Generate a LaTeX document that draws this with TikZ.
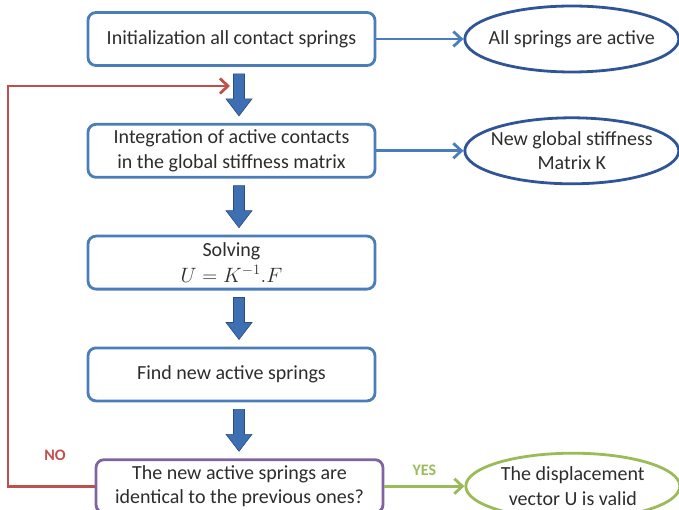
\documentclass[tikz,border=0pt]{standalone}
\usepackage{fontspec}
\setmainfont{Carlito}
\usepackage{amsmath}
\usepackage{tikz}
\usetikzlibrary{shapes.geometric, arrows.meta, positioning}
\usepackage{xcolor}

\definecolor{boxblue}{RGB}{74,126,187}
\definecolor{ovalblue}{RGB}{47,85,151}
\definecolor{blockblue}{RGB}{61,111,178}
\definecolor{loopred}{RGB}{192,80,77}
\definecolor{okgreen}{RGB}{155,187,89}
\definecolor{testpurple}{RGB}{128,100,162}
\definecolor{txtgray}{RGB}{45,45,45}

\begin{document}
\begin{tikzpicture}[
    x=1pt, y=-1pt,
    node distance=56pt,
    every node/.style={font=\fontsize{20}{24.5}\selectfont, text=txtgray},
    etapa/.style={
        rectangle,
        rounded corners=8pt,
        draw=boxblue,
        line width=2.8pt,
        align=center,
        minimum width=287pt,
        minimum height=53pt,
        inner sep=2pt,
        fill=white
    },
    resultado/.style={
        ellipse,
        draw=ovalblue,
        line width=2.8pt,
        align=center,
        minimum width=214pt,
        minimum height=66pt,
        inner xsep=-12pt,
        inner ysep=-3pt
    },
    flecha/.style={
        -{Straight Barb[length=8pt,width=15pt]},
        line width=2.8pt
    },
    bloque/.style={
        draw=blockblue!70!black,
        line width=0.6pt,
        fill=blockblue
    }
]
\useasboundingbox (0,0) rectangle (679,510);

\node[etapa] (inicio) at (231.5,39) {Initialization all contact springs};
\node[etapa, below=of inicio] (integracion) {Integration of active contacts\\in the global stiffness matrix};
\node[etapa, below=of integracion] (solucion) {Solving\\[1pt]$U = K^{-1}.F$};
\node[etapa, below=of solucion] (busqueda) {Find new active springs};
\node[etapa, below=of busqueda, xshift=8pt, draw=testpurple] (prueba) {The new active springs are\\identical to the previous ones?};

\node[resultado, right=87pt of inicio] (activos) {All springs are active};
\node[resultado, right=87pt of integracion] (rigidez) {New global stiffness\\Matrix K};
\node[resultado, right=80pt of prueba, draw=okgreen] (valido) {The displacement\\vector U is valid};

\draw[flecha, boxblue] (inicio) -- (activos);
\draw[flecha, boxblue] (integracion) -- (rigidez);
\draw[flecha, okgreen] (prueba) -- node[above=6pt, font=\fontsize{16}{19}\selectfont\bfseries, text=okgreen] {YES} (valido);

% block arrows between the steps
\foreach \desde/\hasta in {inicio/integracion, integracion/solucion, solucion/busqueda, busqueda/prueba}{
    \coordinate (a) at ([xshift=7.5pt,yshift=-7pt]\desde.south);
    \coordinate (bb) at (a |- \hasta.north);
    \coordinate (b) at ([yshift=7pt]bb);
    \filldraw[bloque] ([xshift=-5.5pt]a) -- ([xshift=5.5pt]a) -- ([xshift=5.5pt,yshift=17pt]b)
        -- ([xshift=13pt,yshift=17pt]b) -- (b) -- ([xshift=-13pt,yshift=17pt]b)
        -- ([xshift=-5.5pt,yshift=17pt]b) -- cycle;
}

% loop back
\coordinate (retorno) at (230,86);
\draw[flecha, loopred] (prueba.west) -| (8,86) -- (retorno);
\node[font=\fontsize{16}{19}\selectfont\bfseries, text=loopred] (no) at (55,455) {NO};

\end{tikzpicture}
\end{document}
